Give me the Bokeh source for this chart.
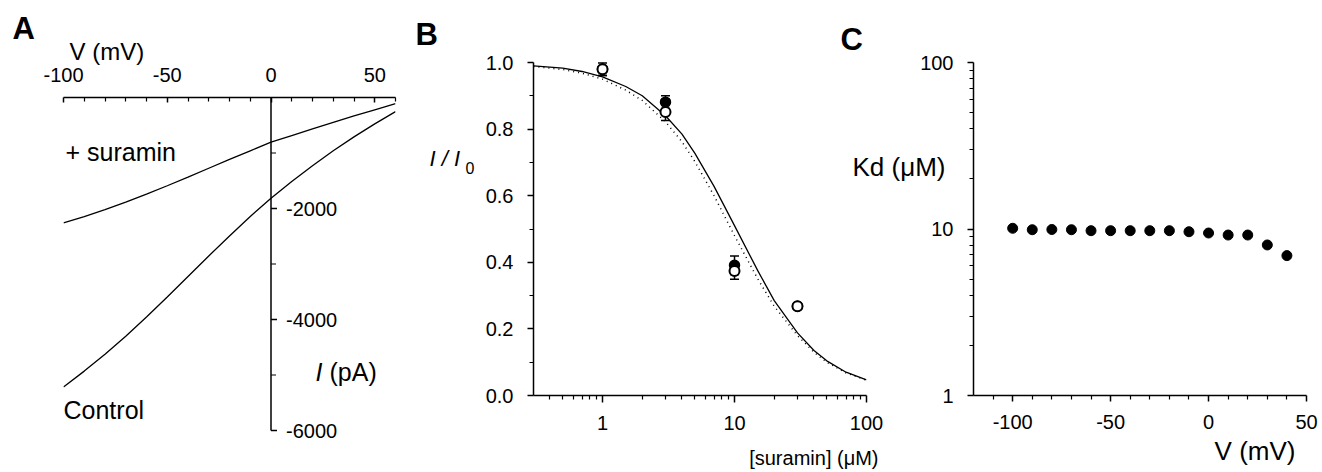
import math
from bokeh.plotting import figure
from bokeh.layouts import row
from bokeh.models import (Range1d, FixedTicker, PrintfTickFormatter, Label,
                          Whisker, TeeHead, ColumnDataSource)
from bokeh.core.properties import value
from bokeh.embed import file_html
from bokeh.resources import INLINE

FONT = "Liberation Sans"

# ---------------- data ----------------
# Panel A: I-V relations
A_V = [-100, -90, -80, -70, -60, -50, -40, -30, -20, -10, 0, 10, 20, 30, 40, 50, 60]
A_CONTROL = [-5215, -4930, -4625, -4300, -3955, -3595, -3225, -2855, -2495, -2145,
             -1815, -1515, -1230, -960, -710, -475, -255]
A_SURAMIN = [-2260, -2145, -2020, -1885, -1740, -1590, -1435, -1275, -1115, -960,
             -805, -685, -566, -447, -333, -222, -112]
A_V_TICKS = [-100, -50, 0, 50]
A_V_MINOR = [-90, -80, -70, -60, -40, -30, -20, -10, 10, 20, 30, 40, 60]
A_I_TICKS = [-2000, -4000, -6000]
A_I_MINOR = [-1000, -3000, -5000]
A_I_LABELS = ["-2000", "-4000", "-6000"]

# Panel B: concentration-response
B_CONC = [1, 3, 10, 30]
B_FILLED = [0.98, 0.881, 0.391, 0.268]
B_FILLED_ERR = [0.019, 0.019, 0.028, 0.008]
B_OPEN = [0.98, 0.851, 0.374, 0.268]
B_OPEN_ERR = [0.019, 0.025, 0.025, 0.008]
B_FIT_X = [0.3, 0.5, 0.7, 1, 1.5, 2, 3, 4, 5, 7, 10, 15, 20, 30, 40, 50, 70, 100]
B_FIT_SOLID = [0.99, 0.983, 0.973, 0.957, 0.928, 0.9, 0.84, 0.785, 0.728, 0.628,
               0.51, 0.375, 0.285, 0.188, 0.135, 0.104, 0.07, 0.047]
B_FIT_DOTTED = [0.988, 0.979, 0.968, 0.95, 0.917, 0.886, 0.822, 0.762, 0.703, 0.6,
                0.48, 0.35, 0.268, 0.18, 0.13, 0.1, 0.068, 0.046]
B_X_TICKS = [1, 10, 100]
B_X_MINOR = [0.4, 0.5, 0.6, 0.7, 0.8, 0.9, 2, 3, 4, 5, 6, 7, 8, 9,
             20, 30, 40, 50, 60, 70, 80, 90]
B_Y_TICKS = [0.0, 0.2, 0.4, 0.6, 0.8, 1.0]
B_Y_MINOR = [0.1, 0.3, 0.5, 0.7, 0.9]

# Panel C: Kd vs voltage
C_V = [-100, -90, -80, -70, -60, -50, -40, -30, -20, -10, 0, 10, 20, 30, 40]
C_KD = [10.1, 9.9, 9.93, 9.9, 9.77, 9.77, 9.77, 9.77, 9.77, 9.63, 9.46, 9.2, 9.2, 8.02, 6.92]
C_X_TICKS = [-100, -50, 0, 50]
C_X_MINOR = [-110, -90, -80, -70, -60, -40, -30, -20, -10, 10, 20, 30, 40]
C_Y_TICKS = [1, 10, 100]
C_Y_MINOR = [2, 3, 4, 5, 6, 7, 8, 9, 20, 30, 40, 50, 60, 70, 80, 90]

H = 472


def make_fig(w, l, r, t, b, **kw):
    p = figure(width=w, height=H, min_border_left=l, min_border_right=r,
               min_border_top=t, min_border_bottom=b,
               output_backend="svg", toolbar_location=None, **kw)
    p.frame_align = False
    p.outline_line_color = None
    p.grid.visible = False
    p.background_fill_color = None
    p.border_fill_color = None
    return p


def style_axis(ax, ticks, minor, fmt, tout, mtout, standoff, tin=0, mtin=0):
    ax.ticker = FixedTicker(ticks=ticks, minor_ticks=minor)
    ax.formatter = PrintfTickFormatter(format=fmt)
    ax.axis_line_width = 1.5
    ax.axis_line_color = "black"
    ax.major_tick_line_width = 1.5
    ax.minor_tick_line_width = 1.2
    ax.major_tick_line_color = "black"
    ax.minor_tick_line_color = "black"
    ax.major_tick_in = tin
    ax.major_tick_out = tout
    ax.minor_tick_in = mtin
    ax.minor_tick_out = mtout
    ax.major_label_standoff = standoff
    ax.major_label_text_font = FONT
    ax.major_label_text_font_size = "20px"
    ax.major_label_text_color = "black"


def lab(p, side, xy, text, size, style="normal", align="left"):
    lbl = Label(x=xy[0], y=xy[1], text=text, text_font=FONT, text_font_size=size,
                text_font_style=style, text_color="black",
                text_align=align, text_baseline="middle")
    if side == "center":
        p.add_layout(lbl)
    else:
        p.add_layout(lbl, side)


# ---------------- Panel A ----------------
A_X0 = 0
A_W, A_L, A_R, A_T, A_B = 410, 63, 15, 97, 25
a_fw = A_W - A_L - A_R
a_fh = H - A_T - A_B
a_axis_px = 333  # pixels from 0 to -6000
a_ystart = A_I_TICKS[-1] * a_fh / a_axis_px

pa = make_fig(A_W, A_L, A_R, A_T, A_B, x_range=Range1d(-100, 60),
              y_range=Range1d(a_ystart, 0), x_axis_location="above", y_axis_location=None)
style_axis(pa.xaxis[0], A_V_TICKS, A_V_MINOR, "%d", 0, 0, 16, tin=5, mtin=4)


def a_xy(px, py):
    px -= A_X0
    return (-100 + (px - A_L) * 160 / a_fw, -(py - A_T) * (-a_ystart) / a_fh)


pa.line(A_V, A_CONTROL, line_color="black", line_width=1.3)
pa.line(A_V, A_SURAMIN, line_color="black", line_width=1.3)

# vertical current axis crossing at V = 0
ax0 = [0] * len(A_I_TICKS)
pa.line([0, 0], [0, A_I_TICKS[-1]], line_color="black", line_width=1.5)
pa.ray(x=ax0, y=A_I_TICKS, length=6, length_units="screen", angle=0,
       line_color="black", line_width=1.5)
pa.ray(x=[0] * len(A_I_MINOR), y=A_I_MINOR, length=5, length_units="screen", angle=0,
       line_color="black", line_width=1.2)
pa.text(x=ax0, y=A_I_TICKS, text=A_I_LABELS, x_offset=15, text_baseline="middle",
        text_align="left", text_font=value(FONT), text_font_size="20px",
        text_color="black")

lab(pa, "left", a_xy(12, 27.5), "A", "31px", "bold")
lab(pa, "above", a_xy(69, 51), "V (mV)", "24px")
lab(pa, "center", a_xy(65, 151.5), "+ suramin", "25px")
lab(pa, "center", a_xy(63, 409), "Control", "25px")
lab(pa, "center", a_xy(315, 371.5), "I", "25px", "italic")
lab(pa, "center", a_xy(329, 371.5), "(pA)", "25px")

# ---------------- Panel B ----------------
B_X0 = A_X0 + A_W
B_W, B_L, B_R, B_T, B_B = 476, 123, 20, 62, 77
b_fw = B_W - B_L - B_R
b_fh = H - B_T - B_B
pb = make_fig(B_W, B_L, B_R, B_T, B_B, x_axis_type="log", x_range=Range1d(0.3, 100),
              y_range=Range1d(0, 1))
style_axis(pb.xaxis[0], B_X_TICKS, B_X_MINOR, "%d", 7, 4, 13)
style_axis(pb.yaxis[0], B_Y_TICKS, B_Y_MINOR, "%.1f", 6, 4, 14)


def b_xy(px, py):
    l0, l1 = math.log10(0.3), 2.0
    px -= B_X0
    return (10 ** (l0 + (px - B_L) * (l1 - l0) / b_fw), (b_fh - (py - B_T)) / b_fh)


pb.line(B_FIT_X, B_FIT_DOTTED, line_color="black", line_width=1.5, line_dash="1 4")
pb.line(B_FIT_X, B_FIT_SOLID, line_color="black", line_width=1.3)

for ys, es in ((B_FILLED, B_FILLED_ERR), (B_OPEN, B_OPEN_ERR)):
    src = ColumnDataSource(dict(x=B_CONC, lo=[v - e for v, e in zip(ys, es)],
                                hi=[v + e for v, e in zip(ys, es)]))
    pb.add_layout(Whisker(source=src, base="x", lower="lo", upper="hi",
                          line_color="black", line_width=1.5,
                          upper_head=TeeHead(size=9, line_width=1.5, line_color="black"),
                          lower_head=TeeHead(size=9, line_width=1.5, line_color="black")))

pb.scatter(B_CONC, B_FILLED, marker="circle", size=10, fill_color="black",
           line_color="black", line_width=1.5)
pb.scatter(B_CONC, B_OPEN, marker="circle", size=10, fill_color="white",
           line_color="black", line_width=2)

lab(pb, "above", b_xy(415, 34), "B", "31px", "bold")
lab(pb, "left", b_xy(429, 158), "I / I", "22px", "italic")
lab(pb, "right", b_xy(465, 167), "0", "16px")
lab(pb, "below", b_xy(878, 457), "[suramin] (\u03bcM)", "20px", align="right")

# ---------------- Panel C ----------------
C_OVERLAP = 50
C_X0 = B_X0 + B_W - C_OVERLAP
C_W = 1322 - C_X0
C_R, C_T, C_B = 16, 62, 77
C_L = C_W - C_R - 333
c_fw = C_W - C_L - C_R
c_fh = H - C_T - C_B
pc = make_fig(C_W, C_L, C_R, C_T, C_B, y_axis_type="log", x_range=Range1d(-120, 50),
              y_range=Range1d(1, 100))
pc.margin = (0, 0, 0, -C_OVERLAP)
style_axis(pc.xaxis[0], C_X_TICKS, C_X_MINOR, "%d", 6, 4, 13)
style_axis(pc.yaxis[0], C_Y_TICKS, C_Y_MINOR, "%d", 6, 4, 14)


def c_xy(px, py):
    px -= C_X0
    return (-120 + (px - C_L) * 170 / c_fw, 10 ** ((c_fh - (py - C_T)) * 2 / c_fh))


pc.scatter(C_V, C_KD, marker="circle", size=10, fill_color="black", line_color="black")

lab(pc, "left", c_xy(840, 38.8), "C", "31px", "bold")
lab(pc, "above", c_xy(852, 166), "Kd (\u03bcM)", "26px")
lab(pc, "below", c_xy(1295, 450), "V (mV)", "26px", align="right")

layout = row(pa, pb, pc)
open("out.html", "w").write(file_html(layout, INLINE))
